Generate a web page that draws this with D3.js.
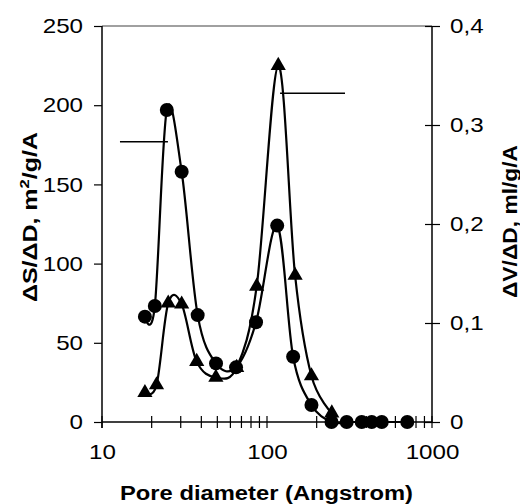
<!DOCTYPE html>
<html>
<head>
<meta charset="utf-8">
<script src="https://cdn.jsdelivr.net/npm/d3@7"></script>
<style>
  body { margin: 0; background: #fff; }
  svg { display: block; font-family: "Liberation Sans", Arial, sans-serif; }
</style>
</head>
<body>
<div id="chart"></div>
<script>
// Pore diameter (Angstrom) for each series
const circleD = [18.2, 20.9, 24.7, 30.4, 38.0, 49.1, 64.9, 85.8, 115.3, 144, 186, 246, 304, 375, 431, 496, 708];
// dS/dD, m2/g/A (left axis)
const circleS = [66.5, 73.2, 197, 158, 67.5, 37, 34.5, 63, 124, 41.2, 10.7, 0, 0, 0, 0, 0, 0];

const triD = [18.2, 21.4, 25.2, 30.4, 37.5, 49, 65.5, 86.6, 117, 148, 186, 247];
// dV/dD, ml/g/A (right axis)
const triV = [0.0296, 0.0374, 0.120, 0.119, 0.061, 0.045, 0.055, 0.137, 0.360, 0.148, 0.0465, 0.009];

// annotation segments showing which axis each series belongs to
const leftMarker = { d: [12.85, 25.1], v: 177 };
const rightMarker = { d: [120, 297], v: 0.332 };

const xTicks = [10, 100, 1000];
const leftTicks = [0, 50, 100, 150, 200, 250];
const rightTicks = [0, 0.1, 0.2, 0.3, 0.4];

const W = 520, H = 504;
const margin = { top: 26, right: 88, bottom: 82, left: 102 };
const iw = W - margin.left - margin.right;
const ih = H - margin.top - margin.bottom;

// widen text like the original's stretched font
function stretch(sel, factor) {
  sel.each(function() {
    const w = this.getComputedTextLength();
    d3.select(this).attr('textLength', w * factor).attr('lengthAdjust', 'spacingAndGlyphs');
  });
}

const svg = d3.select('#chart').append('svg')
  .attr('width', W).attr('height', H);

const g = svg.append('g')
  .attr('transform', `translate(${margin.left},${margin.top})`);

const x = d3.scaleLog().domain([10, 1000]).range([0, iw]);
const yL = d3.scaleLinear().domain([0, 250]).range([ih, 0]);
const yR = d3.scaleLinear().domain([0, 0.4]).range([ih, 0]);

// top frame line
g.append('line')
  .attr('x1', 0).attr('x2', iw).attr('y1', 0).attr('y2', 0)
  .attr('stroke', '#808080').attr('stroke-width', 1.5);

// left axis
const axL = g.append('g')
  .call(d3.axisLeft(yL).tickValues(leftTicks).tickSize(8).tickPadding(11));
axL.select('.domain').attr('stroke-width', 1.5).attr('d', `M0,0V${ih + 6}`);
axL.selectAll('.tick line').attr('stroke-width', 1.2);
axL.selectAll('.tick text').style('font-size', '21px').attr('fill', '#000');

// right axis with crossing ticks
const axR = g.append('g')
  .attr('transform', `translate(${iw},0)`)
  .call(d3.axisRight(yR).tickValues(rightTicks).tickSize(0).tickPadding(18)
    .tickFormat(d => d === 0 ? '0' : d3.format('.1f')(d).replace('.', ',')));
axR.select('.domain').attr('stroke-width', 1.5).attr('d', `M0,0V${ih}`);
axR.selectAll('.tick line').attr('x1', -7).attr('x2', 8).attr('stroke-width', 1.2);
axR.selectAll('.tick text').style('font-size', '21px').attr('fill', '#000');

// bottom axis, log ticks crossing the line
const minor = [];
for (const dec of [10, 100]) for (let k = 1; k <= 9; k++) minor.push(dec * k);
minor.push(1000);
const axB = g.append('g')
  .attr('transform', `translate(0,${ih})`)
  .call(d3.axisBottom(x).tickValues(xTicks).tickFormat(d3.format('d')).tickSize(0).tickPadding(22));
axB.select('.domain').attr('stroke-width', 1.5).attr('d', `M0,0H${iw}`);
axB.selectAll('.tick text').style('font-size', '21px').attr('fill', '#000');
axB.selectAll('.minor').data(minor).enter().append('line')
  .attr('class', 'minor')
  .attr('x1', d => x(d)).attr('x2', d => x(d))
  .attr('y1', -6).attr('y2', 6)
  .attr('stroke', '#000').attr('stroke-width', 1.2);

stretch(svg.selectAll('.tick text'), 1.15);

// curves
const lineL = d3.line().x((d, i) => x(circleD[i])).y(d => yL(d)).curve(d3.curveCardinal.tension(0));
const lineR = d3.line().x((d, i) => x(triD[i])).y(d => yR(d)).curve(d3.curveCardinal.tension(0));

g.append('path').datum(circleS).attr('d', lineL)
  .attr('fill', 'none').attr('stroke', '#000').attr('stroke-width', 2.2);
g.append('path').datum(triV).attr('d', lineR)
  .attr('fill', 'none').attr('stroke', '#000').attr('stroke-width', 2.2);

// markers
g.selectAll('.circ').data(circleS).enter().append('circle')
  .attr('cx', (d, i) => x(circleD[i])).attr('cy', d => yL(d))
  .attr('r', 7).attr('fill', '#000');

const tri = d3.symbol().type(d3.symbolTriangle).size(100);
g.selectAll('.tri').data(triV).enter().append('path')
  .attr('d', tri)
  .attr('transform', (d, i) => `translate(${x(triD[i])},${yR(d)})`)
  .attr('fill', '#000');

// axis association markers
g.append('line')
  .attr('x1', x(leftMarker.d[0])).attr('x2', x(leftMarker.d[1]))
  .attr('y1', yL(leftMarker.v)).attr('y2', yL(leftMarker.v))
  .attr('stroke', '#000').attr('stroke-width', 1.5);
g.append('line')
  .attr('x1', x(rightMarker.d[0])).attr('x2', x(rightMarker.d[1]))
  .attr('y1', yR(rightMarker.v)).attr('y2', yR(rightMarker.v))
  .attr('stroke', '#000').attr('stroke-width', 1.5);

// axis titles
svg.append('text')
  .attr('transform', 'translate(37,217) rotate(-90)')
  .attr('text-anchor', 'middle')
  .attr('textLength', 170).attr('lengthAdjust', 'spacingAndGlyphs')
  .style('font-size', '19.5px').style('font-weight', 'bold')
  .html('ΔS/ΔD, m<tspan dy="-8" font-size="13px">2</tspan><tspan dy="8">/g/A</tspan>');

svg.append('text')
  .attr('transform', 'translate(517,221.5) rotate(-90)')
  .attr('text-anchor', 'middle')
  .attr('textLength', 153).attr('lengthAdjust', 'spacingAndGlyphs')
  .style('font-size', '19.5px').style('font-weight', 'bold')
  .text('ΔV/ΔD, ml/g/A');

svg.append('text')
  .attr('x', 266.5).attr('y', 500)
  .attr('text-anchor', 'middle')
  .attr('textLength', 293).attr('lengthAdjust', 'spacingAndGlyphs')
  .style('font-size', '19.5px').style('font-weight', 'bold')
  .text('Pore diameter (Angstrom)');
</script>
</body>
</html>
